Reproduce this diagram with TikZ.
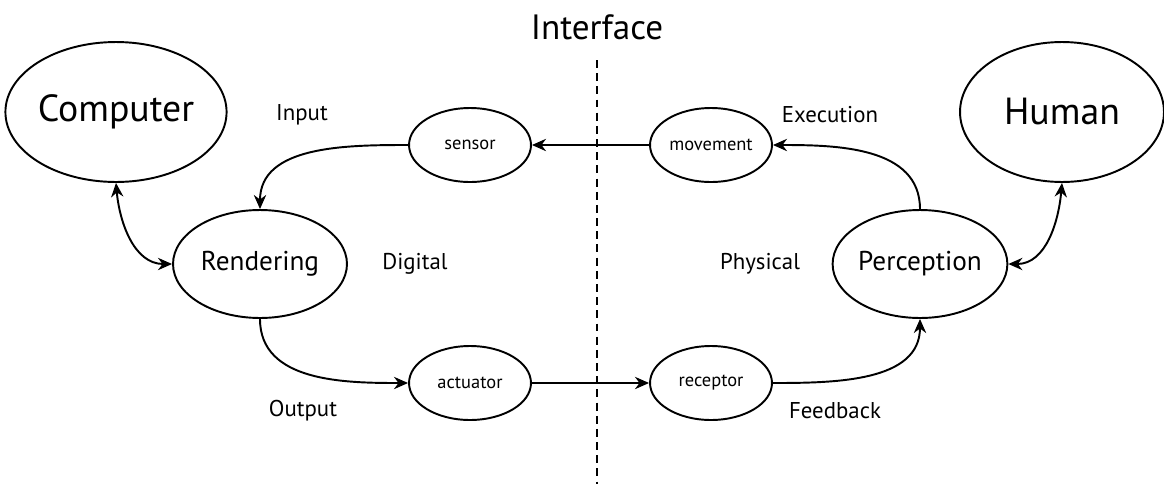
\documentclass[tikz,border=0pt]{standalone}
\usepackage{fontspec}
\setmainfont{PT Sans}
\usepackage{tikz}
\usetikzlibrary{arrows.meta, shapes.geometric, positioning}

\tikzset{
    big/.style={draw, ellipse, line width=1.1pt, inner sep=0pt,
        minimum width=4.2cm, minimum height=2.8cm, font=\fontsize{21.5}{24}\selectfont},
    mid/.style={draw, ellipse, line width=1.1pt, inner sep=0pt,
        minimum width=3.48cm, minimum height=2.16cm, font=\fontsize{15.5}{18}\selectfont},
    small/.style={draw, ellipse, line width=1.1pt, inner sep=0pt,
        minimum width=2.44cm, minimum height=1.48cm, font=\fontsize{10.5}{12}\selectfont},
    lbl/.style={font=\fontsize{13}{15}\selectfont},
    flow/.style={line width=1.1pt, >={Stealth[length=8pt,width=7pt]}}
}

\begin{document}
\begin{tikzpicture}[x=0.02cm, y=-0.02cm]
                        \useasboundingbox (0,0) rectangle (1164,484);
                        % the two sides
                        \node[big] (comp) at (116,112) {Computer};
                        \node[big, minimum width=4.08cm] (human) at (1062,112) {Human};
                        \node[mid] (rend) at (260,264) {Rendering};
                        \node[mid] (perc) at (920,264) {Perception};
                        \node[small] (sens) at (470,145) {sensor};
                        \node[small] (move) at (711,145) {movement};
                        \node[small] (act) at (470,383) {actuator};
                        \node[small] (rec) at (711,383) {receptor};

                        % labels
                        \node[font=\fontsize{20}{23}\selectfont] (intf) at (597,27) {Interface};
                        \node[lbl] (inp) at (302,115) {Input};
                        \node[lbl] (exe) at (830,115) {Execution};
                        \node[lbl] (dig) at (415,264) {Digital};
                        \node[lbl] (phy) at (760,264) {Physical};
                        \node[lbl] (outp) at (303,411) {Output};
                        \node[lbl] (fb) at (835,411) {Feedback};

                        % boundary
                        \coordinate (top) at (597,60);
                        \coordinate (bot) at (597,484);
                        \draw[line width=0.8pt, dash pattern=on 4.5pt off 3pt] (top) -- (bot);

                        \draw[flow]
                        (comp.south) edge[<->, out=-85, in=180] (rend.west)
                        (sens.west) edge[->, out=180, in=90] (rend.north)
                        (rend.south) edge[->, out=-90, in=180] (act.west)
                        (act.east) edge[->] (rec.west)
                        (move.west) edge[->] (sens.east)
                        (rec.east) edge[->, out=0, in=-90] (perc.south)
                        (perc.north) edge[->, out=90, in=0] (move.east)
                        (human.south) edge[<->, out=-95, in=0] (perc.east);
                    \end{tikzpicture}
\end{document}
